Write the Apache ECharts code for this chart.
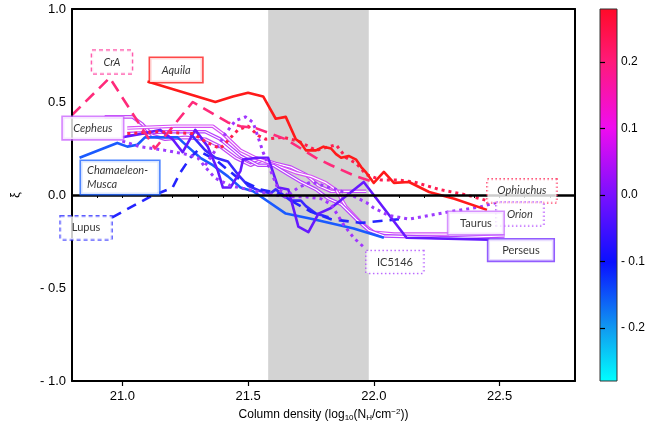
<!DOCTYPE html>
<html>
<head>
<meta charset="utf-8">
<title>xi vs column density</title>
<script src="https://cdn.jsdelivr.net/npm/echarts@6/dist/echarts.min.js"></script>
<style>
html, body { margin: 0; padding: 0; background: #fff; }
#chart { width: 660px; height: 431px; }
</style>
</head>
<body>
<div id="chart"></div>
<script>
// [log10(N_H), xi]
var aquila = [[21.10,0.61],[21.37,0.50],[21.44,0.53],[21.50,0.55],[21.56,0.53],[21.61,0.41],[21.65,0.42],[21.69,0.30],[21.71,0.28],[21.73,0.24],[21.77,0.24],[21.80,0.26],[21.83,0.25],[21.85,0.22],[21.87,0.20],[21.90,0.21],[21.93,0.19],[21.95,0.15],[21.97,0.12],[22.00,0.065],[22.04,0.124],[22.08,0.065],[22.14,0.07],[22.22,0.016],[22.32,-0.02],[22.45,-0.08]];
var cra = [[20.80,0.43],[20.95,0.63],[21.13,0.25],[21.28,0.50],[21.42,0.39],[21.47,0.37],[21.53,0.36],[21.59,0.33],[21.65,0.30],[21.71,0.25],[21.77,0.20],[21.83,0.16],[21.93,0.10],[22.00,0.07]];
var ophiuchus = [[21.02,0.33],[21.14,0.34],[21.28,0.33],[21.34,0.28],[21.39,0.25],[21.46,0.35],[21.50,0.37],[21.54,0.32],[21.57,0.30],[21.64,0.31],[21.70,0.29],[21.77,0.24],[21.85,0.27],[21.89,0.20],[21.93,0.17],[21.97,0.11],[22.03,0.08],[22.10,0.08],[22.16,0.07],[22.26,0.03],[22.37,0.00],[22.45,-0.03]];
var ic5146 = [[21.33,0.16],[21.37,0.24],[21.41,0.33],[21.45,0.40],[21.49,0.42],[21.52,0.39],[21.54,0.31],[21.56,0.23],[21.59,0.13],[21.62,0.03],[21.67,-0.01],[21.73,-0.01],[21.79,-0.02],[21.83,-0.05],[21.88,-0.16],[21.92,-0.23],[21.96,-0.28]];
var orion = [[21.00,0.29],[21.07,0.26],[21.17,0.24],[21.25,0.22],[21.30,0.20],[21.33,0.15],[21.37,0.09],[21.43,0.05],[21.53,0.02],[21.65,-0.01],[21.70,0.04],[21.75,0.07],[21.80,0.05],[21.85,0.03],[21.91,0.00],[21.97,-0.04],[22.00,-0.07],[22.06,-0.11],[22.14,-0.13],[22.22,-0.11],[22.30,-0.09],[22.42,-0.065],[22.49,-0.04]];
var perseus = [[21.00,0.31],[21.08,0.33],[21.15,0.35],[21.20,0.30],[21.24,0.23],[21.29,0.35],[21.34,0.26],[21.38,0.13],[21.40,0.04],[21.43,0.04],[21.47,0.13],[21.48,0.19],[21.54,0.20],[21.58,0.20],[21.62,0.04],[21.66,0.03],[21.70,-0.17],[21.74,-0.20],[21.78,-0.10],[21.83,-0.07],[21.96,0.07],[22.13,-0.23],[22.46,-0.24]];
var blueSolid = [[21.27,0.33],[21.33,0.24],[21.37,0.20],[21.42,0.18],[21.46,0.11],[21.50,0.05],[21.55,0.02],[21.59,0.01],[21.61,0.03],[21.65,-0.01],[21.67,-0.03],[21.71,-0.03],[21.73,-0.06],[21.77,-0.10],[21.82,-0.12]];
var chamMusca = [[20.83,0.20],[20.98,0.28],[21.02,0.26],[21.06,0.27],[21.09,0.31],[21.12,0.31],[21.18,0.31],[21.22,0.31],[21.26,0.26],[21.31,0.20],[21.36,0.16],[21.42,0.10],[21.47,0.04],[21.52,0.02],[21.65,-0.10],[21.76,-0.13],[21.92,-0.18],[22.04,-0.23]];
var lupus = [[20.96,-0.12],[21.11,-0.01],[21.20,0.04],[21.23,0.12],[21.27,0.20],[21.30,0.24],[21.37,0.19],[21.47,0.08],[21.55,0.03],[21.62,0.01],[21.67,-0.03],[21.75,-0.09],[21.83,-0.13],[21.95,-0.15],[22.10,-0.13]];
var cepheus = [[20.93,0.42],[21.04,0.42],[21.08,0.38],[21.12,0.32],[21.17,0.30],[21.25,0.31],[21.33,0.30],[21.39,0.26],[21.45,0.20],[21.51,0.16],[21.56,0.19],[21.61,0.17],[21.67,0.15],[21.73,0.11],[21.78,0.05],[21.83,0.02],[21.97,0.02]];
var taurus = [[21.02,0.36],[21.21,0.37],[21.36,0.37],[21.40,0.33],[21.47,0.24],[21.53,0.20],[21.59,0.17],[21.64,0.145],[21.69,0.12],[21.75,0.10],[21.81,0.065],[21.85,0.027],[21.89,-0.065],[21.95,-0.15],[22.00,-0.20],[22.08,-0.21],[22.30,-0.21]];
var taurus2 = [[21.02,0.33],[21.19,0.34],[21.33,0.34],[21.39,0.30],[21.47,0.21],[21.54,0.16],[21.60,0.16],[21.66,0.11],[21.71,0.07],[21.77,0.03],[21.82,-0.02],[21.87,-0.05],[21.93,-0.13],[21.98,-0.19],[22.04,-0.22],[22.30,-0.23],[22.52,-0.22]];

var bandFrom = 21.58;
var bandTo = 21.98;

var xTicks = [21.0, 21.5, 22.0, 22.5];
var barTicks = [-0.2, -0.1, 0.0, 0.1, 0.2];

// cloud names and where their boxes sit (data coords)
var boxNames = ['CrA', 'Aquila', 'Cepheus', 'Chamaeleon-\nMusca', 'Lupus', 'Ophiuchus', 'Orion', 'Taurus', 'Perseus', 'IC5146'];
var boxPos = [[20.959,0.715],[21.214,0.672],[20.883,0.360],[20.836,0.094],[20.856,-0.177],[22.589,0.022],[22.581,-0.102],[22.406,-0.151],[22.585,-0.296],[22.084,-0.360]];

var boxStyle = [
	{ c: '#ff3399', t: [4, 3], w: 40, h: 23, it: true },
	{ c: '#ff1a1a', t: 'solid', w: 52, h: 24, it: true },
	{ c: '#cc66ff', t: 'solid', w: 60, h: 22, it: true },
	{ c: '#2266ff', t: 'solid', w: 72, h: 33, it: true, left: true },
	{ c: '#3333ff', t: [4, 3], w: 51, h: 23, it: false },
	{ c: '#ff2050', t: [1.5, 2.5], w: 69, h: 23, it: true },
	{ c: '#aa33ff', t: [1.5, 2.5], w: 47, h: 23, it: true },
	{ c: '#cc77ff', t: 'solid', w: 55, h: 22, it: false },
	{ c: '#7733ff', t: 'solid', w: 65, h: 21, it: false },
	{ c: '#aa44ff', t: [1.5, 2.5], w: 57, h: 22, it: false }
];

var AX_FONT = "'Liberation Sans', Arial, sans-serif";
var BOX_FONT = "'Comic Sans MS', Lato, 'Noto Sans', sans-serif";

function xiLabel(v) {
	if (Math.abs(v) < 1e-9) return '0.0';
	return v < 0 ? '- ' + (-v).toFixed(1) : v.toFixed(1);
}

var series = [];

function addLine(data, color, dash, width, z) {
	series.push({
		type: 'line',
		data: data,
		symbol: 'none',
		z: z || 2,
		lineStyle: { color: color, width: width, type: dash, cap: 'butt', join: 'round' }
	});
}

function addDouble(data, color) {
	addLine(data, color, 'solid', 3.6);
	addLine(data, '#ffffff', 'solid', 1.2);
}

// grey band
series.push({
	type: 'line', data: [], z: 1,
	markArea: { silent: true, itemStyle: { color: '#d3d3d3' }, data: [[{ xAxis: bandFrom }, { xAxis: bandTo }]] }
});

addDouble(cepheus, '#c248f5');
addDouble(taurus, '#d452f5');
addDouble(taurus2, '#b840ff');
addLine(chamMusca, '#1a5aff', 'solid', 2.6);
addLine(blueSolid, '#3a2aff', 'solid', 2.6);
addLine(lupus, '#2424ff', [10, 7], 2.6);
addLine(perseus, '#6619ff', 'solid', 2.6);
addLine(orion, '#9d3bff', [3, 4], 3);
addLine(ic5146, '#a035ff', [3, 4], 3);
addLine(ophiuchus, '#ff1e50', [3, 4], 3);
addLine(cra, '#ff2a7a', [12, 7], 2.6);
addLine(aquila, '#ff1a1a', 'solid', 2.6);

// xi = 0
series.push({
	type: 'line', data: [], z: 4,
	markLine: {
		silent: true, symbol: 'none', label: { show: false },
		lineStyle: { color: '#000', width: 2.5, type: 'solid' },
		data: [{ yAxis: 0 }]
	}
});

// boxed cloud names
var boxData = [];
for (var i = 0; i < boxNames.length; i++) {
	var s = boxStyle[i];
	boxData.push({
		value: boxPos[i],
		label: {
			show: true,
			position: 'inside',
			formatter: boxNames[i],
			backgroundColor: '#fff',
			borderColor: s.c,
			borderWidth: s.t === 'solid' ? 1.6 : 1.3,
			borderType: s.t,
			width: s.w,
			height: s.h,
			lineHeight: s.left ? 14 : s.h,
			padding: s.left ? [0, 0, 0, 6] : 0,
			align: s.left ? 'left' : 'center',
			verticalAlign: 'middle',
			color: '#000',
			fontFamily: BOX_FONT,
			fontStyle: s.it ? 'italic' : 'normal',
			fontSize: 11
		}
	});
}
series.push({
	type: 'scatter', data: boxData, z: 6,
	symbol: 'circle', symbolSize: 1,
	itemStyle: { color: 'rgba(0,0,0,0)' },
	labelLayout: { hideOverlap: false }
});

var chart = echarts.init(document.getElementById('chart'));
var option = {
	animation: false,
	backgroundColor: '#fff',
	textStyle: { fontFamily: AX_FONT },
	grid: [
		{ left: 72, top: 9, width: 503, height: 372 },
		{
			left: 600, top: 9, width: 17, height: 372, show: true,
			borderColor: '#333', borderWidth: 1,
			backgroundColor: new echarts.graphic.LinearGradient(0, 0, 0, 1, [
				{ offset: 0, color: '#ff0a28' },
				{ offset: 0.14, color: '#ff1a78' },
				{ offset: 0.32, color: '#f00cf0' },
				{ offset: 0.5, color: '#7a10ff' },
				{ offset: 0.68, color: '#0a10ff' },
				{ offset: 0.86, color: '#109cf0' },
				{ offset: 1, color: '#00ffff' }
			])
		}
	],
	xAxis: [
		{
			type: 'value', gridIndex: 0, min: 20.8, max: 22.8, z: 5,
			name: 'Column density (log{sub|10}(N{sub|H}/cm{sup|\u22122}))',
			nameLocation: 'middle', nameGap: 25,
			nameTextStyle: {
				color: '#000', fontSize: 12, fontFamily: AX_FONT,
				rich: {
					sub: { fontSize: 8, verticalAlign: 'bottom', padding: [6, 0, 0, 0], fontFamily: AX_FONT },
					sup: { fontSize: 8, verticalAlign: 'top', padding: [0, 0, 6, 0], fontFamily: AX_FONT }
				}
			},
			axisLine: { show: true, onZero: false, lineStyle: { color: '#000', width: 2 } },
			axisTick: { show: true, customValues: xTicks, length: 5, lineStyle: { color: '#000', width: 1.2 } },
			axisLabel: { customValues: xTicks, color: '#000', fontSize: 13, margin: 9, formatter: function (v) { return v.toFixed(1); } },
			splitLine: { show: false }
		},
		{
			type: 'value', gridIndex: 0, min: 20.8, max: 22.8, interval: 0.1, position: 'bottom',
			axisLine: { show: false },
			axisTick: { show: true, length: 3, lineStyle: { color: '#000', width: 1 } },
			axisLabel: { show: false },
			splitLine: { show: false }
		},
		{
			type: 'value', gridIndex: 0, min: 20.8, max: 22.8, position: 'top', z: 5,
			axisLine: { show: true, onZero: false, lineStyle: { color: '#000', width: 2 } },
			axisTick: { show: false }, axisLabel: { show: false }, splitLine: { show: false }
		},
		{ type: 'value', gridIndex: 1, show: false, min: 0, max: 1 }
	],
	yAxis: [
		{
			type: 'value', gridIndex: 0, min: -1, max: 1, interval: 0.5, z: 5,
			name: '\u03be', nameLocation: 'middle', nameGap: 50, nameRotate: 90,
			nameTextStyle: { color: '#000', fontSize: 13 },
			axisLine: { show: true, onZero: false, lineStyle: { color: '#000', width: 2 } },
			axisTick: { show: false },
			axisLabel: { color: '#000', fontSize: 13, margin: 6, formatter: xiLabel },
			splitLine: { show: false }
		},
		{
			type: 'value', gridIndex: 0, min: -1, max: 1, position: 'right', z: 5,
			axisLine: { show: true, onZero: false, lineStyle: { color: '#000', width: 2 } },
			axisTick: { show: false }, axisLabel: { show: false }, splitLine: { show: false }
		},
		{
			type: 'value', gridIndex: 1, min: -0.28, max: 0.28, position: 'right',
			axisLine: { show: false },
			axisTick: { show: true, customValues: barTicks, length: 5, lineStyle: { color: '#000', width: 1.2 } },
			axisLabel: { customValues: barTicks, color: '#000', fontSize: 12, margin: 4, formatter: xiLabel },
			splitLine: { show: false }
		}
	],
	series: series
};
chart.setOption(option);
</script>
</body>
</html>
